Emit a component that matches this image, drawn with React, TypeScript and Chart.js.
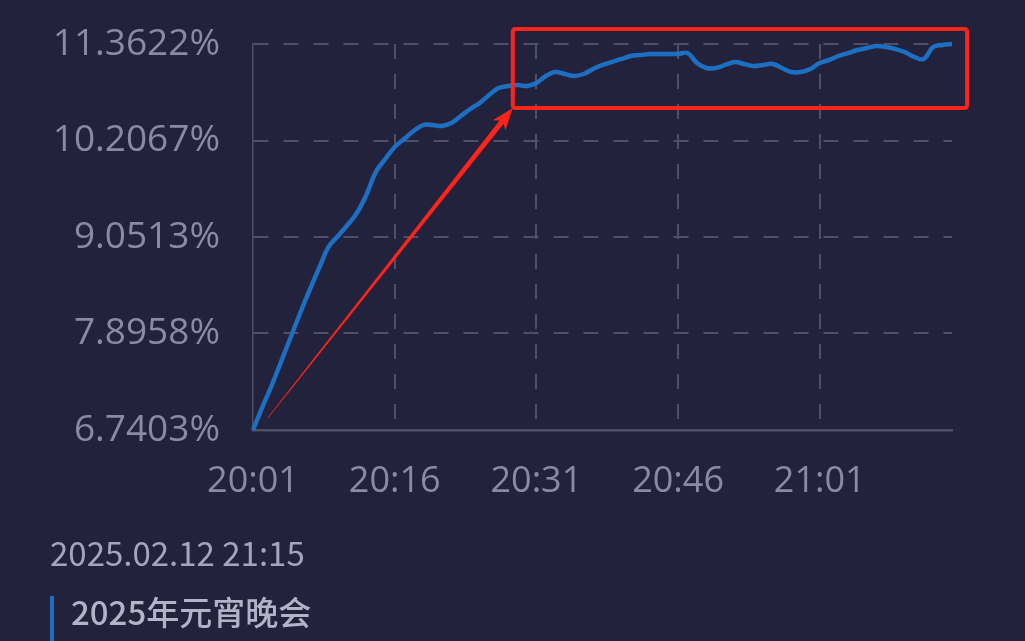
import React, { useEffect, useRef } from 'react';
import { Chart, registerables } from 'chart.js';

Chart.register(...registerables);

// ---- data ----
const timeLabels = [
  '20:01', '20:02', '20:03', '20:04', '20:05', '20:06', '20:07', '20:08', '20:09', '20:10',
  '20:11', '20:12', '20:13', '20:14', '20:15', '20:16', '20:17', '20:18', '20:19', '20:20',
  '20:21', '20:22', '20:23', '20:24', '20:25', '20:26', '20:27', '20:28', '20:29', '20:30',
  '20:31', '20:32', '20:33', '20:34', '20:35', '20:36', '20:37', '20:38', '20:39', '20:40',
  '20:41', '20:42', '20:43', '20:44', '20:45', '20:46', '20:47', '20:48', '20:49', '20:50',
  '20:51', '20:52', '20:53', '20:54', '20:55', '20:56', '20:57', '20:58', '20:59', '21:00',
  '21:01', '21:02', '21:03', '21:04', '21:05', '21:06', '21:07', '21:08', '21:09', '21:10',
  '21:11', '21:12', '21:13', '21:14', '21:15',
];

const shareValues = [
  6.7403, 7.016, 7.279, 7.567, 7.854, 8.141, 8.417, 8.680, 8.932, 9.063,
  9.195, 9.339, 9.554, 9.830, 9.985, 10.129, 10.225, 10.321, 10.392, 10.392,
  10.380, 10.416, 10.500, 10.584, 10.656, 10.752, 10.835, 10.859, 10.871, 10.859,
  10.895, 10.979, 11.027, 11.003, 10.979, 11.003, 11.063, 11.111, 11.147, 11.183,
  11.219, 11.230, 11.242, 11.242, 11.242, 11.242, 11.254, 11.135, 11.075, 11.075,
  11.111, 11.147, 11.123, 11.099, 11.111, 11.123, 11.075, 11.027, 11.027, 11.063,
  11.135, 11.171, 11.219, 11.254, 11.290, 11.314, 11.338, 11.326, 11.302, 11.266,
  11.207, 11.183, 11.326, 11.350, 11.362,
];

const yTickValues = [6.7403, 7.8958, 9.0513, 10.2067, 11.3622];
const xLabelEvery = 15;

// annotation (in data units: category index, percent)
const highlightBoxX = [27.5, 75.6];
const highlightBoxY = [10.596, 11.542];
const arrowFrom = [1.56, 6.884];
const arrowTo = [27.5, 10.596];

const dateText = '2025.02.12 21:15';
const titleText = '2025年元宵晚会';

const BG = '#23223c';
const GRID = '#4f4f67';
const TICK = '#8a8aa2';
const LINE = '#1d6fc1';
const RED = '#ff2419';

const annotationPlugin = {
  id: 'redAnnotations',
  afterDatasetsDraw(chart: any) {
    const { ctx, scales } = chart;
    const xs = scales.x;
    const ys = scales.y;
    // box
    const bx1 = xs.getPixelForValue(highlightBoxX[0]);
    const bx2 = xs.getPixelForValue(highlightBoxX[1]);
    const by1 = ys.getPixelForValue(highlightBoxY[1]);
    const by2 = ys.getPixelForValue(highlightBoxY[0]);
    ctx.save();
    ctx.strokeStyle = RED;
    ctx.lineWidth = 4;
    ctx.lineJoin = 'round';
    const r = 3;
    ctx.beginPath();
    ctx.moveTo(bx1 + r, by1);
    ctx.lineTo(bx2 - r, by1);
    ctx.quadraticCurveTo(bx2, by1, bx2, by1 + r);
    ctx.lineTo(bx2, by2 - r);
    ctx.quadraticCurveTo(bx2, by2, bx2 - r, by2);
    ctx.lineTo(bx1 + r, by2);
    ctx.quadraticCurveTo(bx1, by2, bx1, by2 - r);
    ctx.lineTo(bx1, by1 + r);
    ctx.quadraticCurveTo(bx1, by1, bx1 + r, by1);
    ctx.closePath();
    ctx.stroke();

    // tapered arrow
    const ax = xs.getPixelForValue(arrowFrom[0]);
    const ay = ys.getPixelForValue(arrowFrom[1]);
    const tx = xs.getPixelForValue(arrowTo[0]);
    const ty = ys.getPixelForValue(arrowTo[1]);
    const dx = tx - ax;
    const dy = ty - ay;
    const len = Math.hypot(dx, dy);
    const ux = dx / len;
    const uy = dy / len;
    const nx = -uy;
    const ny = ux;
    const headLen = 22;
    const headHalf = 8;
    const shaftEndHalf = 2.6;
    const shaftStartHalf = 0.3;
    const hbx = tx - ux * headLen;
    const hby = ty - uy * headLen;
    ctx.fillStyle = RED;
    ctx.beginPath();
    ctx.moveTo(ax + nx * shaftStartHalf, ay + ny * shaftStartHalf);
    ctx.lineTo(hbx + ux * 4 + nx * shaftEndHalf, hby + uy * 4 + ny * shaftEndHalf);
    ctx.lineTo(hbx + nx * headHalf, hby + ny * headHalf);
    ctx.lineTo(tx, ty);
    ctx.lineTo(hbx - nx * headHalf, hby - ny * headHalf);
    ctx.lineTo(hbx + ux * 4 - nx * shaftEndHalf, hby + uy * 4 - ny * shaftEndHalf);
    ctx.lineTo(ax - nx * shaftStartHalf, ay - ny * shaftStartHalf);
    ctx.closePath();
    ctx.fill();
    ctx.restore();
  },
};

export default function App() {
  const canvasRef = useRef<HTMLCanvasElement | null>(null);

  useEffect(() => {
    document.body.style.margin = '0';
    document.body.style.background = BG;
    const canvas = canvasRef.current;
    if (!canvas) return;
    const chart = new Chart(canvas, {
      type: 'line',
      data: {
        labels: timeLabels,
        datasets: [
          {
            data: shareValues,
            borderColor: LINE,
            borderWidth: 4.5,
            pointRadius: 0,
            tension: 0.4,
            fill: false,
            clip: false as any,
          },
        ],
      },
      options: {
        animation: false,
        responsive: true,
        maintainAspectRatio: false,
        layout: { padding: { top: 44, right: 73, bottom: 0, left: 0 } },
        plugins: {
          legend: { display: false },
          tooltip: { enabled: false },
        },
        scales: {
          x: {
            type: 'category',
            offset: false,
            grid: {
              drawTicks: false,
              lineWidth: 2,
              color: (c: any) => (c.index > 0 && c.index % xLabelEvery === 0 ? GRID : 'rgba(0,0,0,0)'),
            },
            border: { display: true, color: GRID, width: 2.5, dash: [15, 15] },
            ticks: {
              autoSkip: false,
              maxRotation: 0,
              padding: 30,
              color: TICK,
              font: { family: '"Open Sans", sans-serif', size: 36 },
              callback: (_v: any, i: number) => (i % xLabelEvery === 0 ? timeLabels[i] : ''),
            },
            afterFit: (s: any) => {
              s.height = 211;
            },
          },
          y: {
            min: yTickValues[0],
            max: yTickValues[yTickValues.length - 1],
            afterBuildTicks: (s: any) => {
              s.ticks = yTickValues.map((v) => ({ value: v }));
            },
            grid: {
              drawTicks: false,
              lineWidth: 2,
              color: (c: any) => (c.index === 0 ? 'rgba(0,0,0,0)' : GRID),
            },
            border: { display: true, color: GRID, width: 1.5, dash: [15, 15] },
            ticks: {
              padding: 33,
              color: TICK,
              font: { family: '"Open Sans", sans-serif', size: 37 },
              callback: (v: any) => Number(v).toFixed(4) + '%',
            },
            afterFit: (s: any) => {
              s.width = 253;
              s.paddingTop = 0;
              s.paddingBottom = 0;
            },
          },
        },
      },
      plugins: [annotationPlugin],
    });
    return () => chart.destroy();
  }, []);

  return (
    <div
      style={{
        position: 'fixed',
        left: 0,
        top: 0,
        width: 1025,
        height: 641,
        background: BG,
        overflow: 'hidden',
      }}
    >
      <div style={{ position: 'absolute', left: 0, top: 0, width: 1025, height: 641 }}>
        <canvas ref={canvasRef} />
      </div>
      <div
        style={{
          position: 'absolute',
          left: 50,
          top: 535,
          fontFamily: '"Noto Sans CJK SC", "Noto Sans", sans-serif',
          fontSize: 33,
          lineHeight: '34px',
          color: '#a4a4bc',
          whiteSpace: 'nowrap',
        }}
      >
        {dateText}
      </div>
      <div
        style={{
          position: 'absolute',
          left: 50,
          top: 596,
          width: 4,
          height: 60,
          background: LINE,
        }}
      />
      <div
        style={{
          position: 'absolute',
          left: 71,
          top: 595,
          fontFamily: '"Noto Sans CJK SC", sans-serif',
          fontSize: 33,
          fontWeight: 500,
          lineHeight: '33px',
          color: '#b2b2c8',
          whiteSpace: 'nowrap',
        }}
      >
        {titleText}
      </div>
    </div>
  );
}
